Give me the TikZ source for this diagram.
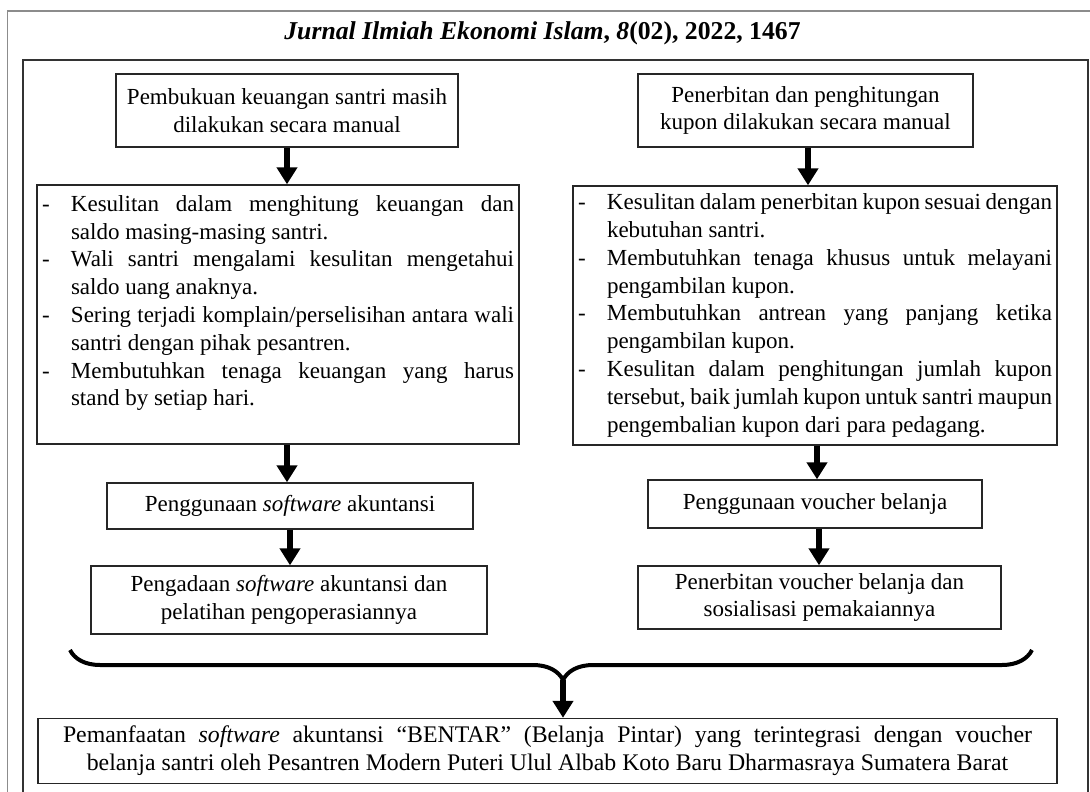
\documentclass[tikz,border=0pt]{standalone}
\usepackage{fontspec}
\setmainfont{Liberation Serif}
\usetikzlibrary{arrows.meta,decorations.pathreplacing}
\newcommand{\itm}[1]{\noindent\hangindent=29pt\hangafter=1\makebox[29pt][l]{-}#1\par}
\tikzset{
  frameline/.style={line width=1.8pt, draw=black!45},
  innerline/.style={line width=1.5pt, draw=black!80},
  box/.style={draw=black!85, line width=1.4pt, inner sep=0pt, align=center,
    font=\fontsize{23pt}{27.8pt}\selectfont},
  listbox/.style={draw=black!85, line width=1.4pt, inner xsep=5pt, inner ysep=0pt,
    align=justify, font=\fontsize{23pt}{27.8pt}\selectfont},
  bigarrow/.style={line width=6.5pt, -{Triangle[width=20pt,length=17pt]}, black},
  bracestyle/.style={line width=4pt, decorate,
    decoration={brace, amplitude=30pt, aspect=0.4875}},
}
\begin{document}
\begin{tikzpicture}[x=1pt,y=-1pt]
\useasboundingbox (0,0) rectangle (1090,792);
\fill[white] (0,0) rectangle (1090,792);
% frames
\draw[frameline] (1095,11) -- (7.5,11) -- (7.5,800);
\draw[innerline] (23,800) -- (23,60) -- (1088,60) -- (1088,800);
% title
\node[font=\fontsize{25.7pt}{28pt}\selectfont\bfseries, anchor=base] (title) at (542.5,40)
  {\textit{Jurnal Ilmiah Ekonomi Islam}, \textit{8}(02), 2022, 1467};
% left column
\node[box, minimum width=342pt, minimum height=73pt] (L1) at (287,110.5)
  {Pembukuan keuangan santri masih\\dilakukan secara manual};
\node[listbox, text width=472pt, minimum height=259pt] (L2) at (278,314.5) {%
\itm{Kesulitan dalam menghitung keuangan dan\linebreak saldo masing-masing santri.}
\itm{Wali santri mengalami kesulitan mengetahui\linebreak saldo uang anaknya.}
\itm{Sering terjadi komplain/perselisihan antara wali\linebreak santri dengan pihak pesantren.}
\itm{Membutuhkan tenaga keuangan yang harus\linebreak stand by setiap hari.}
\noindent\mbox{}\par};
\node[box, minimum width=366pt, minimum height=46pt] (L3) at (290,506)
  {Penggunaan \textit{software} akuntansi};
\node[box, minimum width=396pt, minimum height=68pt] (L4) at (289,600)
  {Pengadaan \textit{software} akuntansi dan\\pelatihan pengoperasiannya};
% right column
\node[box, minimum width=335pt, minimum height=73pt] (R1) at (805.5,110.5)
  {Penerbitan dan penghitungan\\kupon dilakukan secara manual};
\node[listbox, text width=474pt, minimum height=259pt] (R2) at (815,315.5) {%
\itm{Kesulitan dalam penerbitan kupon sesuai dengan\linebreak kebutuhan santri.}
\itm{Membutuhkan tenaga khusus untuk melayani\linebreak pengambilan kupon.}
\itm{Membutuhkan antrean yang panjang ketika\linebreak pengambilan kupon.}
\itm{Kesulitan dalam penghitungan jumlah kupon\linebreak tersebut, baik jumlah kupon untuk santri maupun\linebreak pengembalian kupon dari para pedagang.}};
\node[box, minimum width=334pt, minimum height=48pt] (R3) at (815,504)
  {Penggunaan voucher belanja};
\node[box, minimum width=363pt, minimum height=63pt] (R4) at (819.5,597.5)
  {Penerbitan voucher belanja dan\\sosialisasi pemakaiannya};
% final
\node[box, minimum width=1019pt, minimum height=65pt, font=\fontsize{23.8pt}{28pt}\selectfont] (F) at (547.5,751)
  {\makebox[969pt][s]{Pemanfaatan \textit{software} akuntansi “BENTAR” (Belanja Pintar) yang terintegrasi dengan voucher}\\belanja santri oleh Pesantren Modern Puteri Ulul Albab Koto Baru Dharmasraya Sumatera Barat};
% arrows
\draw[bigarrow] (L1.south) -- (L1.south |- L2.north);
\draw[bigarrow] (L1.south |- L2.south) -- (L1.south |- L3.north);
\draw[bigarrow] (L3.south) -- (L3.south |- L4.north);
\draw[bigarrow] ([xshift=2.5pt]R1.south) -- ([xshift=2.5pt]R1.south |- R2.north);
\draw[bigarrow] ([xshift=2pt]R3.north |- R2.south) -- ([xshift=2pt]R3.north);
\draw[bigarrow] ([xshift=4pt]R3.south) -- ([xshift=4pt]R3.south |- R4.north);
% brace
\coordinate (bR) at (1032,650);
\coordinate (bL) at (70,650);
\coordinate (tip) at (563,680);
\draw[bracestyle] (bR) -- (bL);
\draw[bigarrow] (tip) -- (tip |- F.north);
\end{tikzpicture}
\end{document}
